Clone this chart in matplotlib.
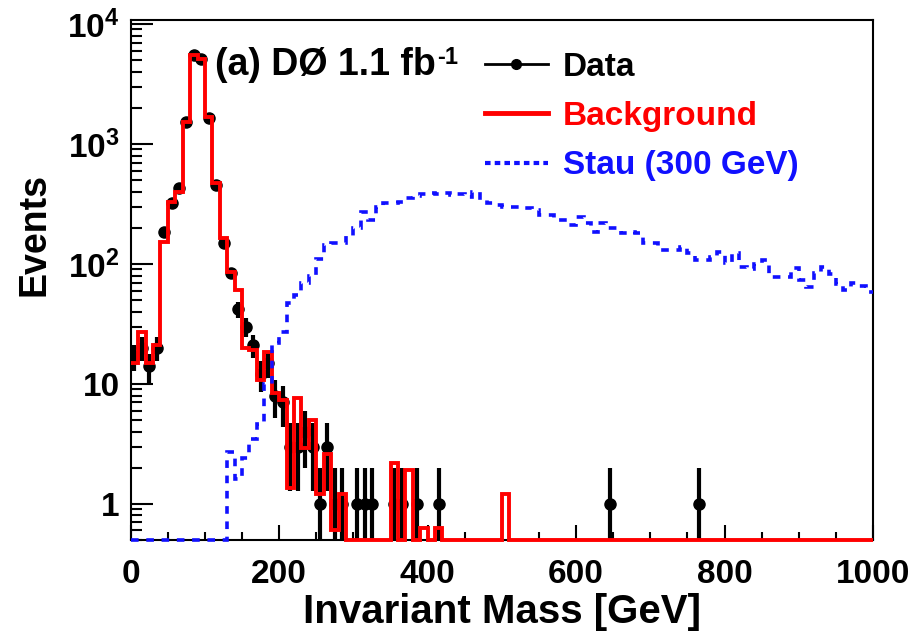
import matplotlib
matplotlib.use('Agg')
import matplotlib.pyplot as plt
from matplotlib.lines import Line2D
from matplotlib.ticker import FixedLocator, FixedFormatter, MultipleLocator, LogLocator, NullFormatter
import numpy as np

plt.rcParams['font.family'] = ['Liberation Sans', 'DejaVu Sans']
plt.rcParams['font.weight'] = 'bold'
plt.rcParams['mathtext.fontset'] = 'custom'
plt.rcParams['mathtext.rm'] = 'Liberation Sans:bold'
plt.rcParams['mathtext.bf'] = 'Liberation Sans:bold'
plt.rcParams['mathtext.default'] = 'bf'
plt.rcParams['lines.scale_dashes'] = False

# 10 GeV bins, 0 - 1000 GeV
edges = np.arange(0, 1001, 10)
centers = edges[:-1] + 5

# background (red), nonzero bins only: bin low edge -> events
bkg_lo = [0, 10, 20, 30, 40, 50, 60, 70, 80, 90, 100, 110, 120, 130, 140, 150, 160, 170, 180, 190,
          200, 210, 220, 230, 240, 250, 260, 270, 280, 350, 370, 390, 410, 500]
bkg_val = [15, 27, 15, 21, 153, 330, 400, 1530, 5500, 5100, 1690, 470, 163, 86, 61, 19.8, 19.2, 10.8, 18.6, 8.4,
           7.4, 1.36, 7.6, 2.9, 5.0, 1.2, 2.6, 0.6, 1.2, 2.2, 1.9, 0.63, 0.63, 1.2]

# stau signal (blue), starts at 130 GeV
stau_start = 130
stau_val = [2.7, 1.6, 2.4, 3.5, 4.6, 10, 22, 27, 47, 55, 70, 80, 110, 144, 148, 150, 170, 200, 272, 232,
            300, 322, 322, 330, 354, 370, 380, 390, 385, 390, 375, 380, 360, 400, 340, 320, 310, 300, 300, 300,
            290, 280, 258, 258, 232, 232, 210, 245, 220, 185, 220, 200, 200, 180, 185, 180, 150, 150, 130, 130,
            130, 138, 123, 108, 108, 115, 125, 102, 123, 95, 90, 100, 108, 78, 78, 78, 92, 74, 64, 84,
            95, 83, 68, 61, 70, 66, 58]

# data (black), bin centre -> events
data_x = [5, 15, 25, 35, 45, 55, 65, 75, 85, 95, 105, 115, 125, 135, 145, 155, 165, 175, 185, 195,
          205, 215, 225, 235, 245, 255, 265, 275, 285, 305, 315, 325, 355, 365, 385, 415, 645, 765]
data_y = [17, 20, 14, 20, 185, 322, 427, 1530, 5500, 5100, 1640, 456, 148, 84, 42, 30, 21, 12, 15, 8,
          7, 3, 3, 4, 3, 1, 3, 1, 1, 1, 1, 1, 1, 1, 1, 1, 1, 1]

ymin, ymax = 0.5, 1.08e4

bkg = np.zeros(len(centers))
for lo, v in zip(bkg_lo, bkg_val):
    bkg[lo // 10] = v
stau = np.zeros(len(centers))
stau[stau_start // 10:stau_start // 10 + len(stau_val)] = stau_val

fig = plt.figure(figsize=(9.16, 6.32), dpi=100)
ax = fig.add_axes([0.1427, 0.1456, 0.8104, 0.8228])

# data points with poisson errors
dx = np.array(data_x, dtype=float)
dy = np.array(data_y, dtype=float)
err = np.sqrt(dy)
lo = np.maximum(dy - err, 0.05)
hi = dy + err
ax.vlines(dx, lo, hi, colors='black', linewidth=3, zorder=2.6)
ax.plot(dx, dy, 'o', color='black', markersize=8, zorder=2.6)

ax.stairs(np.where(bkg > 0, bkg, ymin), edges, baseline=None, color='#ff0000', linewidth=2.8,
          zorder=3, clip_on=False)
ax.stairs(np.where(stau > 0, stau, ymin), edges, baseline=None, color='#1010ff', linewidth=2.6,
          linestyle=(0, (5.5, 5.5)), zorder=4, clip_on=False)

ax.set_yscale('log')
ax.set_xlim(0, 1000)
ax.set_ylim(ymin, ymax)

ax.yaxis.set_major_locator(FixedLocator([1, 10, 100, 1000, 10000]))
ax.yaxis.set_major_formatter(FixedFormatter(['1', '10', r'$10^{2}$', r'$10^{3}$', r'$10^{4}$']))
ax.yaxis.set_minor_locator(LogLocator(base=10, subs=np.arange(2, 10)))
ax.yaxis.set_minor_formatter(NullFormatter())
ax.xaxis.set_major_locator(MultipleLocator(200))
ax.xaxis.set_minor_locator(MultipleLocator(50))

ax.tick_params(axis='both', which='both', direction='in', top=False, right=False, width=1.5, labelsize=24)
ax.tick_params(axis='y', which='major', length=16, pad=8)
ax.tick_params(axis='y', which='minor', length=8)
ax.tick_params(axis='x', which='major', length=11, pad=14)
ax.tick_params(axis='x', which='minor', length=6)
for s in ax.spines.values():
    s.set_linewidth(1.5)

ax.set_xlabel('Invariant Mass [GeV]', fontsize=29, fontweight='bold', labelpad=2)
ax.set_ylabel('Events', fontsize=27, fontweight='bold')
ax.yaxis.set_label_coords(-0.105, 0.587)

lab = ax.text(0.1136, 0.913, '(a) DØ 1.1 fb', transform=ax.transAxes, fontsize=27,
              fontweight='bold', va='center', ha='left')
ax.annotate('-1', xy=(1, 1), xycoords=lab, xytext=(1, 1), textcoords='offset points',
            fontsize=17, fontweight='bold', va='top', ha='left')

handles = [Line2D([], [], color='black', marker='o', markersize=7, linewidth=2),
           Line2D([], [], color='#ff0000', linewidth=3.5),
           Line2D([], [], color='#1010ff', linewidth=3, linestyle=(0, (4, 3)))]
leg = ax.legend(handles, ['Data', 'Background', 'Stau (300 GeV)'], loc='upper left',
                bbox_to_anchor=(0.477, 0.939), frameon=False, fontsize=24, handlelength=1.9,
                handletextpad=0.45, labelspacing=0.55, borderpad=0, borderaxespad=0)
for t, c in zip(leg.get_texts(), ['black', '#ff0000', '#1010ff']):
    t.set_color(c)
    t.set_fontweight('bold')

fig.savefig('out.png', dpi=100)
